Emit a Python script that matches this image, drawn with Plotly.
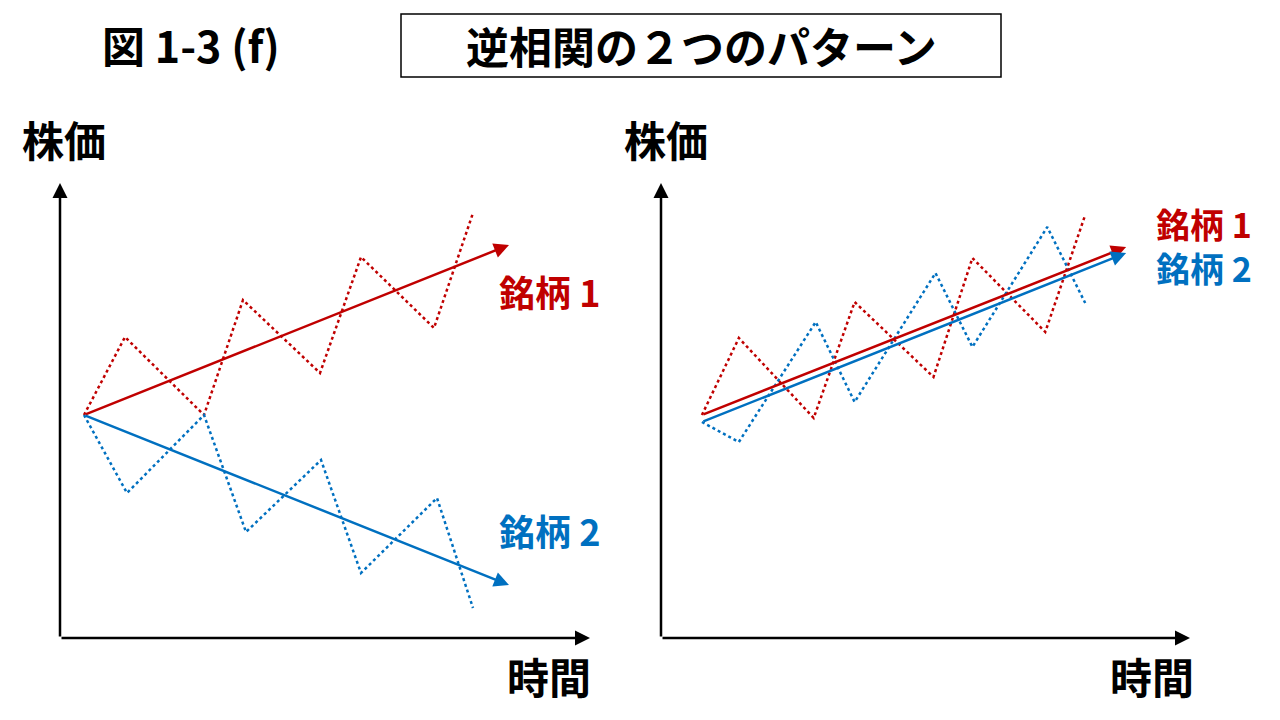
import plotly.graph_objects as go
from plotly.subplots import make_subplots

# Two patterns of negative correlation (stock prices over time)
# Left panel: diverging trends
left_time_1 = [24, 65, 144, 183, 260, 301, 374, 413]
left_price_1 = [223, 301, 223, 338, 265, 381, 310, 425]
left_time_2 = [24, 67, 144, 186, 261, 301, 377, 413]
left_price_2 = [223, 145, 223, 106, 178, 65, 140, 30]
left_trend_time = [24, 449]
left_trend_1 = [223, 393]
left_trend_2 = [223, 53]

# Right panel: same trend, opposite swings
right_time_1 = [41, 78, 153, 194, 273, 312, 385, 425]
right_price_1 = [223, 300, 220, 336, 261, 380, 306, 423]
right_time_2 = [41, 78, 155, 194, 275, 312, 387, 425]
right_price_2 = [216, 196, 316, 236, 365, 291, 411, 335]
right_trend_time = [41, 466]
right_trend_1 = [223, 391]
right_trend_2 = [216, 385]

stock_names = ['銘柄 1', '銘柄 2']
RED = '#C00000'
BLUE = '#0070C0'
FONT = 'Noto Sans CJK JP'

W, H = 1280, 720
OFF = 8  # page body margin


def px(x):
    return (x - OFF) / W


def py(y):
    return 1 - (y - OFF) / H


fig = make_subplots(rows=1, cols=2)

# dotted zigzag price paths
for col, (t1, p1, t2, p2) in enumerate([
        (left_time_1, left_price_1, left_time_2, left_price_2),
        (right_time_1, right_price_1, right_time_2, right_price_2)], start=1):
    fig.add_trace(go.Scatter(x=t1, y=p1, mode='lines', name=stock_names[0],
                             line=dict(color=RED, width=2.5, dash='dot')),
                  row=1, col=col)
    fig.add_trace(go.Scatter(x=t2, y=p2, mode='lines', name=stock_names[1],
                             line=dict(color=BLUE, width=2.5, dash='dot')),
                  row=1, col=col)


# trend arrows
def arrow(xref, yref, x0, y0, x1, y1, color, width=2.5):
    fig.add_annotation(x=x1, y=y1, ax=x0, ay=y0, xref=xref, yref=yref,
                       axref=xref, ayref=yref, showarrow=True, text='',
                       arrowhead=2, arrowsize=1.2, arrowwidth=width,
                       arrowcolor=color)


for xr, yr, tt, tr1, tr2 in [('x', 'y', left_trend_time, left_trend_1, left_trend_2),
                             ('x2', 'y2', right_trend_time, right_trend_1, right_trend_2)]:
    arrow(xr, yr, tt[0], tr1[0], tt[1], tr1[1], RED)
    arrow(xr, yr, tt[0], tr2[0], tt[1], tr2[1], BLUE)
    # axes with arrowheads
    arrow(xr, yr, 0, 0, 0, 455, 'black', 2.5)
    arrow(xr, yr, 0, 0, 530, 0, 'black', 2.5)

# axes: hidden, used only as scales
ax_common = dict(visible=False, showgrid=False, zeroline=False)
fig.update_xaxes(range=[0, 530], **ax_common)
fig.update_yaxes(range=[0, 453], **ax_common)
fig.update_layout(
    xaxis=dict(domain=[px(60), px(590)]),
    xaxis2=dict(domain=[px(661), px(1190)]),
    yaxis=dict(domain=[py(638), py(185)]),
    yaxis2=dict(domain=[py(638), py(185)]),
)


def text(s, x, y, size, color='black'):
    fig.add_annotation(x=px(x), y=py(y), xref='paper', yref='paper',
                       text='<b>' + s + '</b>', showarrow=False,
                       font=dict(family=FONT, size=size, color=color),
                       xanchor='center', yanchor='middle')


text('図 1-3 (f)', 191, 44, 43)
text('逆相関の２つのパターン', 701, 45, 43)
fig.add_shape(type='rect', xref='paper', yref='paper',
              x0=px(401), x1=px(1001), y0=py(77), y1=py(14),
              line=dict(color='black', width=1.5))

text('株価', 64, 138, 42)
text('株価', 666, 138, 42)
text('時間', 549, 675, 42)
text('時間', 1152, 675, 42)

text(stock_names[0], 549, 291, 36, RED)
text(stock_names[1], 549, 530, 36, BLUE)
# right panel: two labels stacked as one block
text(f'<span style="color:{RED}">{stock_names[0]}</span><br>'
     f'<span style="color:{BLUE}">{stock_names[1]}</span>', 1204, 246, 34)

fig.update_layout(width=W, height=H, margin=dict(l=0, r=0, t=0, b=0),
                  showlegend=False, plot_bgcolor='white', paper_bgcolor='white')

fig.write_html("out.html")
